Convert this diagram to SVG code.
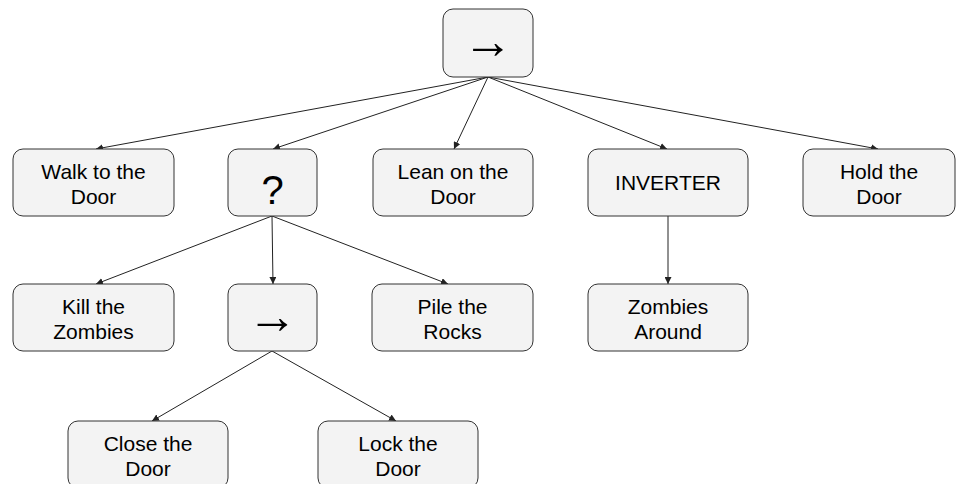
<svg xmlns="http://www.w3.org/2000/svg" width="956" height="484" viewBox="0 0 956 484">
  <style>
    .node rect { fill: #f3f3f3; stroke: #333; stroke-width: 1; }
    .node text { font-family: "Liberation Sans", Arial, sans-serif; font-size: 21px; fill: #000; text-anchor: middle; }
    .node text.sym { font-size: 50px; }
    .node text.q { font-size: 40px; }
    .edges line { stroke: #222; stroke-width: 1; marker-end: url(#arrow); }
  </style>
  <defs>
    <marker id="arrow" viewBox="0 0 10 10" refX="10" refY="5" markerWidth="7" markerHeight="7" markerUnits="userSpaceOnUse" orient="auto">
      <path d="M0,0 L10,5 L0,10 Z" fill="#222"/>
    </marker>
  </defs>
  <rect width="956" height="484" fill="#fff"/>

  <g class="edges">
    <line x1="488" y1="77" x2="96" y2="149"/>
    <line x1="488" y1="77" x2="273" y2="149"/>
    <line x1="488" y1="77" x2="454" y2="149"/>
    <line x1="488" y1="77" x2="667" y2="149"/>
    <line x1="488" y1="77" x2="878" y2="149"/>
    <line x1="272" y1="216" x2="96" y2="284"/>
    <line x1="272" y1="216" x2="273" y2="284"/>
    <line x1="272" y1="216" x2="448" y2="284"/>
    <line x1="668" y1="216" x2="668" y2="284"/>
    <line x1="272" y1="351" x2="152" y2="421"/>
    <line x1="272" y1="351" x2="396" y2="421"/>
  </g>

  <g id="root" class="node">
    <rect x="443" y="9" width="90" height="68" rx="10"/>
    <text class="sym" x="488" y="58">→</text>
  </g>
  <g id="walk" class="node">
    <rect x="13" y="149" width="161" height="67" rx="10"/>
    <text x="93.5" y="179">Walk to the</text>
    <text x="93.5" y="204">Door</text>
  </g>
  <g id="selector" class="node">
    <rect x="228" y="149" width="89" height="67" rx="10"/>
    <text class="q" x="272.5" y="204">?</text>
  </g>
  <g id="lean" class="node">
    <rect x="373" y="149" width="160" height="67" rx="10"/>
    <text x="453" y="179">Lean on the</text>
    <text x="453" y="204">Door</text>
  </g>
  <g id="inverter" class="node">
    <rect x="588" y="149" width="160" height="67" rx="10"/>
    <text x="668" y="190">INVERTER</text>
  </g>
  <g id="hold" class="node">
    <rect x="803" y="149" width="152" height="67" rx="10"/>
    <text x="879" y="179">Hold the</text>
    <text x="879" y="204">Door</text>
  </g>
  <g id="kill" class="node">
    <rect x="13" y="284" width="161" height="67" rx="10"/>
    <text x="93.5" y="314">Kill the</text>
    <text x="93.5" y="339">Zombies</text>
  </g>
  <g id="sequence" class="node">
    <rect x="228" y="284" width="89" height="67" rx="10"/>
    <text class="sym" x="272.5" y="333">→</text>
  </g>
  <g id="pile" class="node">
    <rect x="372" y="284" width="161" height="67" rx="10"/>
    <text x="452.5" y="314">Pile the</text>
    <text x="452.5" y="339">Rocks</text>
  </g>
  <g id="zombies" class="node">
    <rect x="588" y="284" width="160" height="67" rx="10"/>
    <text x="668" y="314">Zombies</text>
    <text x="668" y="339">Around</text>
  </g>
  <g id="close" class="node">
    <rect x="68" y="421" width="160" height="67" rx="10"/>
    <text x="148" y="451">Close the</text>
    <text x="148" y="476">Door</text>
  </g>
  <g id="lock" class="node">
    <rect x="318" y="421" width="160" height="67" rx="10"/>
    <text x="398" y="451">Lock the</text>
    <text x="398" y="476">Door</text>
  </g>
</svg>
